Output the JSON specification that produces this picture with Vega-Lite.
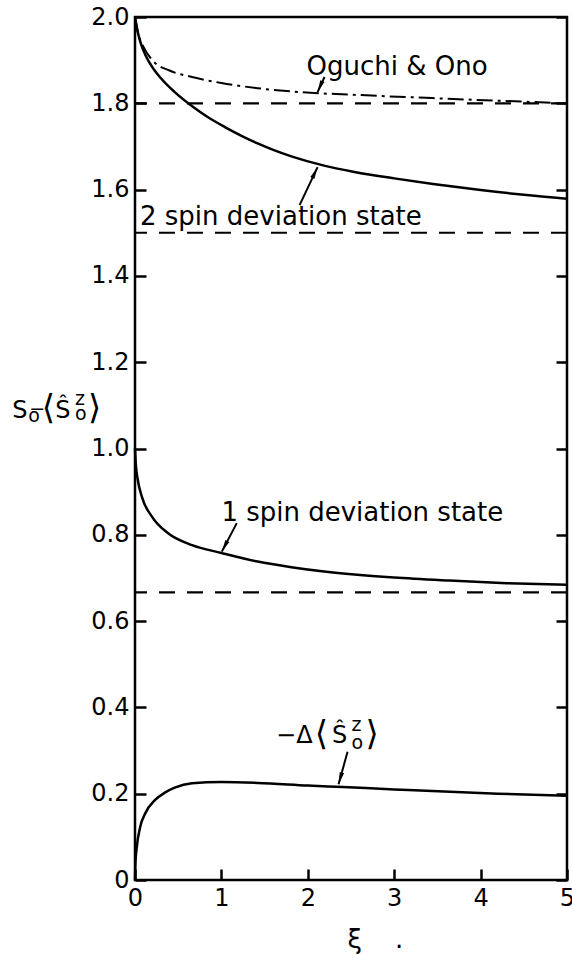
{
  "$schema": "https://vega.github.io/schema/vega-lite/v6.json",
  "width": 432,
  "height": 863,
  "autosize": {"type": "none"},
  "padding": {"left": 135, "top": 17, "right": 5, "bottom": 75},
  "background": "white",
  "config": {
    "font": "DejaVu Sans",
    "view": {"stroke": "black", "strokeWidth": 2.5},
    "axis": {
      "domain": false,
      "grid": false,
      "ticks": true,
      "zindex": 1,
      "tickColor": "black",
      "tickWidth": 2.5,
      "tickSize": -11,
      "labelFlush": false,
      "labelColor": "black",
      "labelFont": "DejaVu Sans",
      "labelFontSize": 24,
      "titleColor": "black",
      "titleFont": "DejaVu Sans",
      "titleFontWeight": "normal"
    }
  },
  "datasets": {
    "curves": [
      {"series": "two", "xi": 0, "v": 2.0},
      {"series": "two", "xi": 0.03, "v": 1.967},
      {"series": "two", "xi": 0.07, "v": 1.937},
      {"series": "two", "xi": 0.12, "v": 1.912},
      {"series": "two", "xi": 0.2, "v": 1.884},
      {"series": "two", "xi": 0.3, "v": 1.858},
      {"series": "two", "xi": 0.46, "v": 1.826},
      {"series": "two", "xi": 0.67, "v": 1.792},
      {"series": "two", "xi": 0.85, "v": 1.767},
      {"series": "two", "xi": 1.04, "v": 1.745},
      {"series": "two", "xi": 1.25, "v": 1.723},
      {"series": "two", "xi": 1.42, "v": 1.707},
      {"series": "two", "xi": 1.6, "v": 1.692},
      {"series": "two", "xi": 1.81, "v": 1.677},
      {"series": "two", "xi": 2.2, "v": 1.655},
      {"series": "two", "xi": 2.54, "v": 1.641},
      {"series": "two", "xi": 3.0, "v": 1.626},
      {"series": "two", "xi": 3.45, "v": 1.613},
      {"series": "two", "xi": 4.0, "v": 1.599},
      {"series": "two", "xi": 4.5, "v": 1.588},
      {"series": "two", "xi": 5.0, "v": 1.579},
      {"series": "oguchi", "xi": 0, "v": 2.0},
      {"series": "oguchi", "xi": 0.03, "v": 1.967},
      {"series": "oguchi", "xi": 0.1, "v": 1.93},
      {"series": "oguchi", "xi": 0.2, "v": 1.9},
      {"series": "oguchi", "xi": 0.4, "v": 1.876},
      {"series": "oguchi", "xi": 0.66, "v": 1.861},
      {"series": "oguchi", "xi": 1.0, "v": 1.847},
      {"series": "oguchi", "xi": 1.42, "v": 1.835},
      {"series": "oguchi", "xi": 1.9, "v": 1.826},
      {"series": "oguchi", "xi": 2.5, "v": 1.82},
      {"series": "oguchi", "xi": 3.44, "v": 1.812},
      {"series": "oguchi", "xi": 4.2, "v": 1.806},
      {"series": "oguchi", "xi": 5.0, "v": 1.8},
      {"series": "one", "xi": 0, "v": 1.0},
      {"series": "one", "xi": 0.01, "v": 0.962},
      {"series": "one", "xi": 0.03, "v": 0.93},
      {"series": "one", "xi": 0.08, "v": 0.888},
      {"series": "one", "xi": 0.2, "v": 0.841},
      {"series": "one", "xi": 0.38, "v": 0.804},
      {"series": "one", "xi": 0.66, "v": 0.776},
      {"series": "one", "xi": 1.0, "v": 0.758},
      {"series": "one", "xi": 1.42, "v": 0.738},
      {"series": "one", "xi": 1.81, "v": 0.725},
      {"series": "one", "xi": 2.19, "v": 0.715},
      {"series": "one", "xi": 2.54, "v": 0.708},
      {"series": "one", "xi": 3.0, "v": 0.701},
      {"series": "one", "xi": 3.64, "v": 0.694},
      {"series": "one", "xi": 4.3, "v": 0.688},
      {"series": "one", "xi": 5.0, "v": 0.684},
      {"series": "delta", "xi": 0, "v": 0},
      {"series": "delta", "xi": 0.005, "v": 0.04},
      {"series": "delta", "xi": 0.02, "v": 0.075},
      {"series": "delta", "xi": 0.06, "v": 0.123},
      {"series": "delta", "xi": 0.12, "v": 0.155},
      {"series": "delta", "xi": 0.23, "v": 0.185},
      {"series": "delta", "xi": 0.35, "v": 0.203},
      {"series": "delta", "xi": 0.46, "v": 0.214},
      {"series": "delta", "xi": 0.66, "v": 0.224},
      {"series": "delta", "xi": 1.0, "v": 0.227},
      {"series": "delta", "xi": 1.42, "v": 0.225},
      {"series": "delta", "xi": 2.0, "v": 0.219},
      {"series": "delta", "xi": 2.33, "v": 0.216},
      {"series": "delta", "xi": 3.0, "v": 0.21},
      {"series": "delta", "xi": 3.44, "v": 0.206},
      {"series": "delta", "xi": 4.2, "v": 0.2},
      {"series": "delta", "xi": 5.0, "v": 0.195}
    ],
    "levels": [
      {"v": 1.8},
      {"v": 1.5},
      {"v": 0.6667}
    ],
    "notes": [
      {"part": "label", "xi": 1.986, "v": 1.866, "text": "Oguchi & Ono"},
      {"part": "label", "xi": 0.058, "v": 1.518, "text": "2 spin deviation state"},
      {"part": "label", "xi": 1.0, "v": 0.832, "text": "1 spin deviation state"},
      {"part": "lead", "xi": 2.055, "v": 0.3175, "text": "−Δ"},
      {"part": "bracket", "xi": 2.08, "v": 0.313, "text": "⟨"},
      {"part": "base", "xi": 2.28, "v": 0.3175, "text": "Ŝ"},
      {"part": "script", "xi": 2.506, "v": 0.345, "text": "z"},
      {"part": "script", "xi": 2.506, "v": 0.303, "text": "o"},
      {"part": "bracket", "xi": 2.667, "v": 0.313, "text": "⟩"},
      {"part": "base", "xi": -1.42, "v": 1.0707, "text": "S"},
      {"part": "script", "xi": -1.236, "v": 1.0614, "text": "o"},
      {"part": "script", "xi": -1.224, "v": 1.0777, "text": "−"},
      {"part": "bracket", "xi": -1.08, "v": 1.068, "text": "⟨"},
      {"part": "base", "xi": -0.924, "v": 1.0707, "text": "Ŝ"},
      {"part": "script", "xi": -0.693, "v": 1.1008, "text": "z"},
      {"part": "script", "xi": -0.693, "v": 1.066, "text": "o"},
      {"part": "bracket", "xi": -0.543, "v": 1.068, "text": "⟩"}
    ],
    "arrows": [
      {"name": "oguchi", "xi": 2.194, "v": 1.861, "xi2": 2.113, "v2": 1.826},
      {"name": "two", "xi": 1.905, "v": 1.564, "xi2": 2.113, "v2": 1.652},
      {"name": "one", "xi": 1.178, "v": 0.827, "xi2": 1.005, "v2": 0.761},
      {"name": "delta", "xi": 2.46, "v": 0.297, "xi2": 2.356, "v2": 0.222}
    ]
  },
  "layer": [
    {
      "data": {"name": "curves"},
      "transform": [{"filter": "datum.series != 'oguchi'"}],
      "mark": {"type": "line", "color": "black", "strokeWidth": 2.5, "interpolate": "monotone"},
      "encoding": {
        "x": {
          "field": "xi", "type": "quantitative",
          "scale": {"domain": [0, 5], "nice": false, "zero": false},
          "axis": {
            "orient": "bottom",
            "values": [0, 1, 2, 3, 4, 5],
            "format": "d",
            "labelPadding": 17,
            "title": "ξ\u00a0\u00a0\u00a0\u00a0.",
            "titleFontSize": 26,
            "titleAlign": "left",
            "titleBaseline": "alphabetic",
            "titleX": 212,
            "titleY": 67
          }
        },
        "y": {
          "field": "v", "type": "quantitative",
          "scale": {"domain": [0, 2], "nice": false},
          "axis": {
            "orient": "left",
            "values": [0, 0.2, 0.4, 0.6, 0.8, 1.0, 1.2, 1.4, 1.6, 1.8, 2.0],
            "labelExpr": "datum.value == 0 ? '0' : format(datum.value, '.1f')",
            "labelPadding": 17,
            "title": null
          }
        },
        "detail": {"field": "series"}
      }
    },
    {
      "data": {"name": "curves"},
      "transform": [{"filter": "datum.series == 'oguchi'"}],
      "mark": {"type": "line", "color": "black", "strokeWidth": 2, "interpolate": "monotone", "strokeDash": [16, 5, 3, 5]},
      "encoding": {
        "x": {"field": "xi", "type": "quantitative", "axis": null},
        "y": {"field": "v", "type": "quantitative", "axis": null}
      }
    },
    {
      "data": {"name": "levels"},
      "mark": {"type": "rule", "color": "black", "strokeWidth": 2.2, "strokeDash": [16, 12]},
      "encoding": {
        "y": {
          "field": "v", "type": "quantitative",
          "axis": {
            "orient": "right",
            "values": [0, 0.2, 0.4, 0.6, 0.8, 1.0, 1.2, 1.4, 1.6, 1.8, 2.0],
            "labels": false,
            "title": null
          }
        }
      }
    },
    {
      "data": {"name": "arrows"},
      "mark": {"type": "rule", "color": "black", "strokeWidth": 2},
      "encoding": {
        "x": {"field": "xi", "type": "quantitative", "axis": null},
        "y": {"field": "v", "type": "quantitative", "axis": null},
        "x2": {"field": "xi2"},
        "y2": {"field": "v2"}
      }
    },
    {
      "data": {"name": "arrows"},
      "transform": [{"filter": "datum.name == 'oguchi'"}],
      "mark": {"type": "point", "shape": "M0,0L-0.75,4L0.75,4Z", "size": 36, "filled": true, "color": "black", "opacity": 1, "angle": 203.6},
      "encoding": {
        "x": {"field": "xi2", "type": "quantitative", "axis": null},
        "y": {"field": "v2", "type": "quantitative", "axis": null}
      }
    },
    {
      "data": {"name": "arrows"},
      "transform": [{"filter": "datum.name == 'two'"}],
      "mark": {"type": "point", "shape": "M0,0L-0.75,4L0.75,4Z", "size": 36, "filled": true, "color": "black", "opacity": 1, "angle": 25.9},
      "encoding": {
        "x": {"field": "xi2", "type": "quantitative", "axis": null},
        "y": {"field": "v2", "type": "quantitative", "axis": null}
      }
    },
    {
      "data": {"name": "arrows"},
      "transform": [{"filter": "datum.name == 'one'"}],
      "mark": {"type": "point", "shape": "M0,0L-0.75,4L0.75,4Z", "size": 36, "filled": true, "color": "black", "opacity": 1, "angle": 207.3},
      "encoding": {
        "x": {"field": "xi2", "type": "quantitative", "axis": null},
        "y": {"field": "v2", "type": "quantitative", "axis": null}
      }
    },
    {
      "data": {"name": "arrows"},
      "transform": [{"filter": "datum.name == 'delta'"}],
      "mark": {"type": "point", "shape": "M0,0L-0.75,4L0.75,4Z", "size": 36, "filled": true, "color": "black", "opacity": 1, "angle": 196.2},
      "encoding": {
        "x": {"field": "xi2", "type": "quantitative", "axis": null},
        "y": {"field": "v2", "type": "quantitative", "axis": null}
      }
    },
    {
      "data": {"name": "notes"},
      "transform": [{"filter": "datum.part == 'label'"}],
      "mark": {"type": "text", "font": "DejaVu Sans", "fontSize": 26, "color": "black", "align": "left", "baseline": "alphabetic"},
      "encoding": {
        "x": {"field": "xi", "type": "quantitative", "axis": null},
        "y": {"field": "v", "type": "quantitative", "axis": null},
        "text": {"field": "text"}
      }
    },
    {
      "data": {"name": "notes"},
      "transform": [{"filter": "datum.part == 'lead'"}],
      "mark": {"type": "text", "font": "DejaVu Sans", "fontSize": 24, "color": "black", "align": "right", "baseline": "alphabetic"},
      "encoding": {
        "x": {"field": "xi", "type": "quantitative", "axis": null},
        "y": {"field": "v", "type": "quantitative", "axis": null},
        "text": {"field": "text"}
      }
    },
    {
      "data": {"name": "notes"},
      "transform": [{"filter": "datum.part == 'bracket'"}],
      "mark": {"type": "text", "font": "DejaVu Sans", "fontSize": 34, "color": "black", "align": "left", "baseline": "alphabetic"},
      "encoding": {
        "x": {"field": "xi", "type": "quantitative", "axis": null},
        "y": {"field": "v", "type": "quantitative", "axis": null},
        "text": {"field": "text"}
      }
    },
    {
      "data": {"name": "notes"},
      "transform": [{"filter": "datum.part == 'base'"}],
      "mark": {"type": "text", "font": "DejaVu Sans", "fontSize": 24, "color": "black", "align": "left", "baseline": "alphabetic"},
      "encoding": {
        "x": {"field": "xi", "type": "quantitative", "axis": null},
        "y": {"field": "v", "type": "quantitative", "axis": null},
        "text": {"field": "text"}
      }
    },
    {
      "data": {"name": "notes"},
      "transform": [{"filter": "datum.part == 'script'"}],
      "mark": {"type": "text", "font": "DejaVu Sans", "fontSize": 19, "color": "black", "align": "left", "baseline": "alphabetic"},
      "encoding": {
        "x": {"field": "xi", "type": "quantitative", "axis": null},
        "y": {"field": "v", "type": "quantitative", "axis": null},
        "text": {"field": "text"}
      }
    }
  ],
  "resolve": {"axis": {"x": "independent", "y": "independent"}}
}
